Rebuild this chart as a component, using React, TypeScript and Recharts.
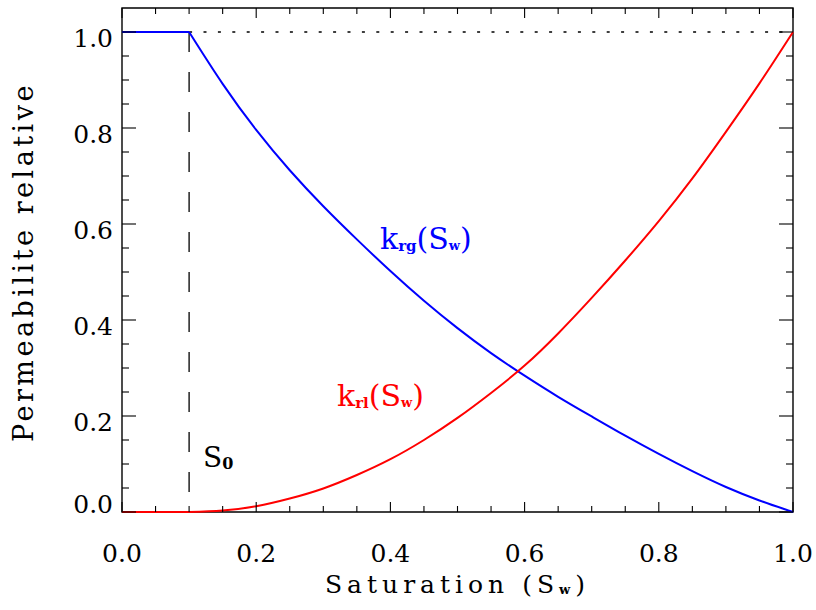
import { LineChart, Line, XAxis, YAxis, ReferenceLine, ReferenceArea } from "recharts";

const saturation = [0, 0.05, 0.1, 0.15, 0.2, 0.25, 0.3, 0.35, 0.4, 0.45, 0.5, 0.55, 0.6, 0.65, 0.7, 0.75, 0.8, 0.85, 0.9, 0.95, 1.0];
const krg = [1, 1, 1, 0.892, 0.796, 0.712, 0.637, 0.568, 0.502, 0.44, 0.383, 0.331, 0.284, 0.24, 0.199, 0.159, 0.121, 0.085, 0.052, 0.024, 0];
const krl = [0, 0, 0, 0.003, 0.012, 0.028, 0.049, 0.077, 0.11, 0.15, 0.196, 0.248, 0.305, 0.372, 0.446, 0.524, 0.606, 0.695, 0.792, 0.893, 1.0];
const s0 = 0.1;

const xTicks = [0, 0.05, 0.1, 0.15, 0.2, 0.25, 0.3, 0.35, 0.4, 0.45, 0.5, 0.55, 0.6, 0.65, 0.7, 0.75, 0.8, 0.85, 0.9, 0.95, 1.0];
const yTicks = [0, 0.05, 0.1, 0.15, 0.2, 0.25, 0.3, 0.35, 0.4, 0.45, 0.5, 0.55, 0.6, 0.65, 0.7, 0.75, 0.8, 0.85, 0.9, 0.95, 1.0];

// split each curve at S0 so the corner there stays sharp
const data = saturation.map((s, i) => ({
  s,
  krgFlat: s <= s0 ? krg[i] : null,
  krgCurve: s >= s0 ? krg[i] : null,
  krlFlat: s <= s0 ? krl[i] : null,
  krlCurve: s >= s0 ? krl[i] : null,
}));

const W = 816;
const H = 610;
const LEFT = 122;
const RIGHT = 793;
const TOP = 8;
const BOTTOM = 512;
const FONT = "'DejaVu Serif', serif";

const isMajor = (v: number) => Math.abs(v * 5 - Math.round(v * 5)) < 1e-6;

const XTick = (props: any) => {
  const { x, payload } = props;
  const v = payload.value;
  const len = isMajor(v) ? 10 : 6;
  return (
    <g>
      <line x1={x} x2={x} y1={BOTTOM} y2={BOTTOM - len} stroke="#000" strokeWidth={1.1} />
      <line x1={x} x2={x} y1={TOP} y2={TOP + len} stroke="#000" strokeWidth={1.1} />
      {isMajor(v) && (
        <text x={x} y={BOTTOM + 50} textAnchor="middle" fontFamily={FONT} fontSize={25} fill="#000">
          {v.toFixed(1)}
        </text>
      )}
    </g>
  );
};

const YTick = (props: any) => {
  const { y, payload } = props;
  const v = payload.value;
  const len = isMajor(v) ? 14 : 7;
  return (
    <g>
      <line x1={LEFT} x2={LEFT + len} y1={y} y2={y} stroke="#000" strokeWidth={1.1} />
      <line x1={RIGHT} x2={RIGHT - len} y1={y} y2={y} stroke="#000" strokeWidth={1.1} />
      {isMajor(v) && (
        <text x={LEFT - 9} y={v === 0 ? y + 1 : y + 15} textAnchor="end" fontFamily={FONT} fontSize={25} fill="#000">
          {v.toFixed(1)}
        </text>
      )}
    </g>
  );
};

const curve = (key: string, color: string) => (
  <Line
    key={key}
    type="natural"
    dataKey={key}
    stroke={color}
    strokeWidth={2}
    dot={false}
    activeDot={false}
    isAnimationActive={false}
  />
);

export default function App() {
  return (
    <div style={{ position: "absolute", left: 0, top: 0, width: W, height: H, background: "#fff" }}>
      <LineChart
        width={W}
        height={H}
        data={data}
        margin={{ top: TOP, right: W - RIGHT, left: 0, bottom: 0 }}
      >
        <XAxis
          type="number"
          dataKey="s"
          domain={[0, 1]}
          ticks={xTicks}
          interval={0}
          height={H - BOTTOM}
          axisLine={false}
          tickLine={false}
          tick={<XTick />}
        />
        <YAxis
          type="number"
          domain={[0, 1.05]}
          ticks={yTicks}
          interval={0}
          width={LEFT}
          axisLine={false}
          tickLine={false}
          tick={<YTick />}
        />
        <ReferenceArea x1={0} x2={1} y1={0} y2={1.05} fill="none" stroke="#000" strokeWidth={1.4} />
        <ReferenceLine
          segment={[{ x: s0, y: 0 }, { x: s0, y: 1 }]}
          stroke="#000"
          strokeWidth={1.3}
          strokeDasharray="20 20"
          strokeDashoffset={20}
        />
        <ReferenceLine
          segment={[{ x: s0, y: 1 }, { x: 1, y: 1 }]}
          stroke="#000"
          strokeWidth={1.4}
          strokeDasharray="3 11.4"
        />
        {curve("krgFlat", "#0000ff")}
        {curve("krgCurve", "#0000ff")}
        {curve("krlFlat", "#ff0000")}
        {curve("krlCurve", "#ff0000")}
      </LineChart>
      <svg width={W} height={H} style={{ position: "absolute", left: 0, top: 0, pointerEvents: "none" }}>
        <text x={380} y={249} fontFamily={FONT} fontSize={30} fill="#0000ff">
          k<tspan fontSize={15} fontWeight="bold" dy={2}>rg</tspan>
          <tspan dy={-2}>(S</tspan>
          <tspan fontSize={13} fontWeight="bold" dy={1}>w</tspan>
          <tspan dy={-1}>)</tspan>
        </text>
        <text x={337} y={406} fontFamily={FONT} fontSize={30} fill="#ff0000">
          k<tspan fontSize={15} fontWeight="bold" dy={2}>rl</tspan>
          <tspan dy={-2}>(S</tspan>
          <tspan fontSize={13} fontWeight="bold" dy={1}>w</tspan>
          <tspan dy={-1}>)</tspan>
        </text>
        <text x={203} y={467} fontFamily={FONT} fontSize={28} fill="#000">
          S<tspan fontSize={16} fontWeight="bold" dy={2}>0</tspan>
        </text>
        <text x={(LEFT + RIGHT) / 2} y={593} textAnchor="middle" fontFamily={FONT} fontSize={25} letterSpacing={5} fill="#000">
          Saturation (S<tspan fontSize={13} fontWeight="bold" dy={1}>w</tspan>
          <tspan dy={-1}>)</tspan>
        </text>
        <text
          transform={`translate(33, ${(TOP + BOTTOM) / 2 + 2}) rotate(-90)`}
          textAnchor="middle"
          fontFamily={FONT}
          fontSize={27}
          letterSpacing={3.5}
          fill="#000"
        >
          Permeabilite relative
        </text>
      </svg>
    </div>
  );
}
